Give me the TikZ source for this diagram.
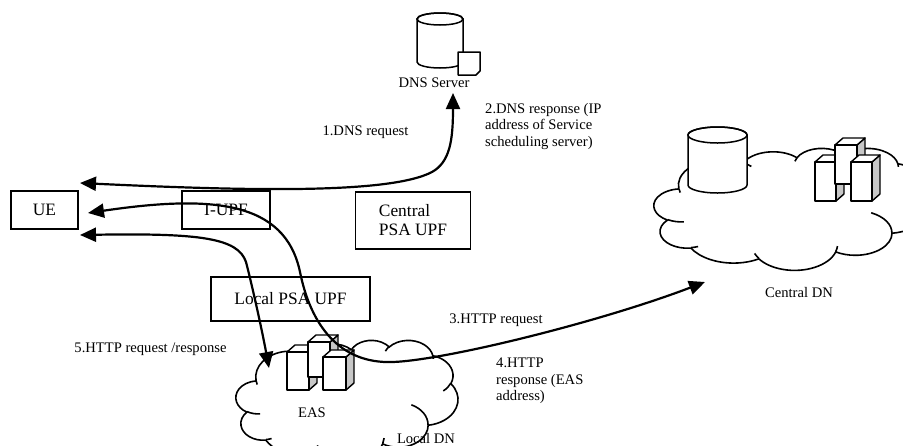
\documentclass[tikz,border=0pt]{standalone}
\usepackage{fontspec}
\setmainfont{Liberation Serif}
\usetikzlibrary{arrows.meta}
\newcommand\wcarc[4]{%
  \pgfextra{%
    \pgfmathparse{(#3)+Mod(atan2((#1)*sin(#3),(#2)*cos(#3))-(#3)+180,360)-180}\xdef\wcA{\pgfmathresult}%
    \pgfmathparse{(#3)+(#4)}\xdef\wcE{\pgfmathresult}%
    \pgfmathparse{(\wcE)+Mod(atan2((#1)*sin(\wcE),(#2)*cos(\wcE))-(\wcE)+180,360)-180}\xdef\wcB{\pgfmathresult}%
  }%
  arc[start angle=\wcA, end angle=\wcB, x radius=#1, y radius=#2]}
\newcommand\wordcloud[4]{%
  \begin{scope}[shift={(#1,#2)},x=1pt,y=1pt,xscale=#3/4320,yscale=-#4/4320]
    \draw[cloudline,fill=white] (390,1437)
      \wcarc{675.3}{919.0}{-190.4875}{123.7805}
      \wcarc{533.3}{726.7}{-144.1024}{89.9452}
      \wcarc{436.5}{594.5}{-145.8079}{99.7230}
      \wcarc{485.7}{659.5}{-130.9861}{117.2417}
      \wcarc{533.3}{727.3}{-78.7089}{109.0269}
      \wcarc{677.5}{922.0}{-46.2673}{130.2690}
      \wcarc{578.5}{786.7}{0.6250}{114.0333}
      \wcarc{675.2}{921.5}{22.4516}{115.1726}
      \wcarc{772.0}{1054.3}{66.2426}{75.7110}
      \wcarc{436.0}{591.8}{-274.9421}{146.7356}
      \wcarc{434.5}{594.5}{-246.8285}{152.5189}
      -- cycle;
    \draw[cloudline]
      (469.3,2617.7) \wcarc{434.5}{594.5}{86.7420}{26.4295}
      (692.8,3489.9) \wcarc{436.0}{591.8}{73.6105}{11.4475}
      (1647.8,3909.0) \wcarc{675.2}{921.5}{137.6242}{14.0811}
      (2882.7,3475.1) \wcarc{675.2}{921.5}{6.4533}{15.9984}
      (3412.9,2295.4) \wcarc{578.5}{786.7}{-70.2924}{70.9174}
      (4179.8,1535.4) \wcarc{533.3}{727.3}{30.3180}{27.7515}
      (3832.4,542.6) \wcarc{485.7}{659.5}{-13.7443}{14.8589}
      (2907.8,395.2) \wcarc{485.7}{659.5}{-149.1815}{18.1954}
      (2214.1,472.0) \wcarc{436.5}{594.5}{-163.4943}{17.6864}
      (1400.0,519.2) \wcarc{675.3}{919.0}{-66.7070}{12.3194}
      (412.7,1578.9) \wcarc{675.3}{919.0}{159.1327}{9.9387};
  \end{scope}}
% building: x y (front bottom-left), w, h
\newcommand\bldg[4]{%
  \fill[white] (#1,#2) rectangle ++(#3,-#4);
  \draw[bline,fill=black!22] (#1+#3,#2) -- ++(0,-#4) -- ++(8,-7) -- ++(0,#4) -- cycle;
  \draw[bline,fill=white] (#1,#2-#4) -- ++(8,-7) -- ++(#3,0) -- ++(-8,7) -- cycle;
  \draw[bline] (#1,#2) rectangle ++(#3,-#4);}
\tikzset{
  cloudline/.style={line width=1.6pt},
  bline/.style={line width=1.4pt, line join=round},
  box/.style={draw, line width=1.5pt, fill=white, inner sep=0pt, font=\fontsize{17.4}{19}\selectfont},
  lab/.style={inner sep=0pt, font=\fontsize{14.6}{16.5}\selectfont},
  conn/.style={line width=2.2pt, {Triangle[length=16pt,width=14pt]}-{Triangle[length=16pt,width=14pt]}}
}
\begin{document}
\begin{tikzpicture}[x=1pt,y=-1pt]
\path[use as bounding box] (0,0) rectangle (903,445);
\fill[white] (0,0) rectangle (903,445);
\clip (0,0) rectangle (903,445);

% clouds
\wordcloud{654}{148}{275}{122}
\wordcloud{236}{340}{222}{122}

% central DN database
\draw[line width=1.5pt, fill=white] (688,135) -- (688,185)
  arc[start angle=180, end angle=360, x radius=29.5pt, y radius=8pt] -- (747,135)
  arc[start angle=0, end angle=180, x radius=29.5pt, y radius=8pt] -- cycle;
\draw[line width=1.5pt] (717.5,135) ellipse[x radius=29.5pt, y radius=8pt];

% buildings
\bldg{815}{201}{21}{39}
\bldg{835}{184}{22}{39}
\bldg{851}{201}{21}{39}
\bldg{287}{390}{22}{38}
\bldg{308}{377}{22}{35}
\bldg{323}{390}{23}{33}

% DNS server
\draw[line width=1.5pt, fill=white] (417,19) -- (417,62)
  arc[start angle=180, end angle=360, x radius=23pt, y radius=6pt] -- (463,19)
  arc[start angle=0, end angle=180, x radius=23pt, y radius=6pt] -- cycle;
\draw[line width=1.5pt] (440,19) ellipse[x radius=23pt, y radius=6pt];
\draw[line width=1.5pt, fill=white, line join=round] (458,52) -- (480,52) -- (480,71) -- (476,75) -- (458,75) -- cycle;

% labels of icons
\node[lab] (dnsl) at (434,83) {DNS Server};
\node[lab] (easl) at (312,413) {EAS};
\node[lab, anchor=base] (ldnl) at (426,443) {Local DN};
\node[lab] (cdnl) at (799,293) {Central DN};

% boxes
\node[box, minimum width=67pt, minimum height=38pt] (ue) at (44.5,210) {UE};
\node[box, minimum width=88pt, minimum height=38pt] (iupf) at (226,210) {I-UPF};
\node[box, minimum width=115pt, minimum height=57pt, align=left] (cpsa) at (413,220.5) {Central\\PSA UPF};
\node[box, minimum width=159pt, minimum height=44pt] (lpsa) at (290.5,299) {Local PSA UPF};

% message labels
\node[lab] (m1) at (365.5,132) {1.DNS request};
\node[lab, anchor=west, align=left] (m2) at (485,126.5) {2.DNS response (IP\\address of Service\\scheduling server)};
\node[lab] (m3) at (496,320) {3.HTTP request};
\node[lab, anchor=west, align=left] (m4) at (496,381) {4.HTTP\\response (EAS\\address)};
\node[lab] (m5) at (150.5,349) {5.HTTP request /response};

% connector end points
\coordinate (ueA) at (80,183);
\coordinate (ueB) at (88,213);
\coordinate (ueC) at (80,235);
\coordinate (dnsIn) at (453,93);
\coordinate (cdnIn) at (705,282);
\coordinate (easIn) at (269,368);

\draw[conn] (ueA) .. controls (250,191) and (390,194) .. (432,172)
  .. controls (450,162) and (453,140) .. (dnsIn);
\draw[conn] (ueB) .. controls (210,195) and (285,200) .. (300,272)
  .. controls (311,326) and (340,364) .. (393,362)
  .. controls (446,360) and (600,322) .. (cdnIn);
\draw[conn] (ueC) .. controls (200,233) and (238,238) .. (246,262)
  .. controls (252,285) and (262,330) .. (easIn);
\end{tikzpicture}
\end{document}
